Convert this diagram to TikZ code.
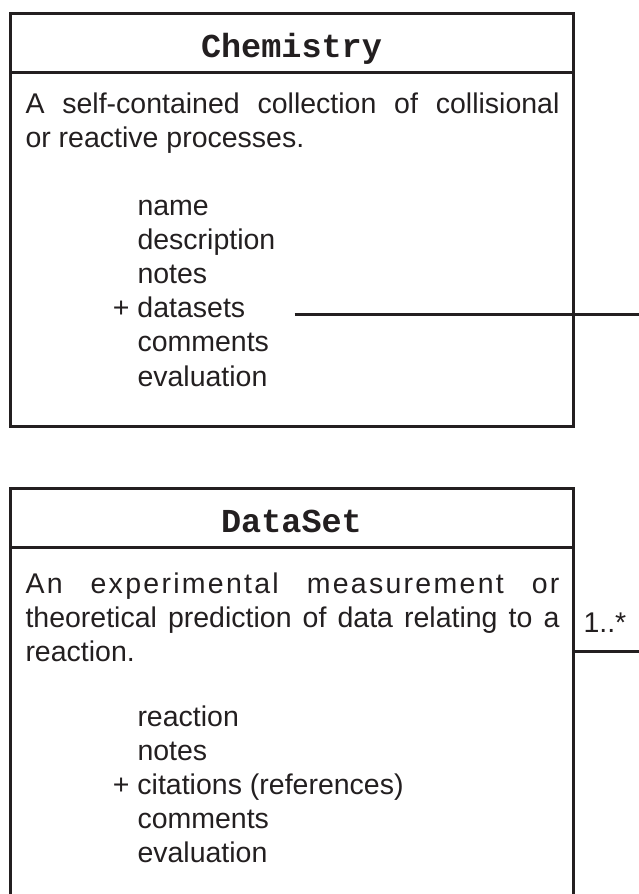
\documentclass[tikz,border=0pt]{standalone}
\usepackage{fontspec}
\setmainfont{Liberation Sans}
\newfontfamily\classfont{Liberation Mono}
\usepackage{xcolor}
\usepackage{tikz}
\definecolor{ink}{HTML}{231F20}

\begin{document}
\begin{tikzpicture}[x=1pt,y=-1pt,line width=3pt,color=ink,
	every node/.style={inner sep=0pt},
	classname/.style={anchor=base,font=\classfont\bfseries\fontsize{33.5}{40}\selectfont},
	descr/.style={anchor=base west,text width=534pt,align=justify,font=\fontsize{28.5}{34}\selectfont},
	attr/.style={anchor=base west,font=\fontsize{28.5}{34}\selectfont}]
	\clip (0,0) rectangle (639,894);
	\draw (10,13) rectangle (573,426);
	\draw (10,72) -- (573,72);
	\node[classname] (chemtitle) at (291.5,57) {Chemistry};
	\node[descr] (chemdesc) at (24,113) {A self-contained collection of collisional\linebreak or reactive processes.};
	\foreach \txt [count=\i from 0] in {name,description,notes,\llap{+ }datasets,comments,evaluation}
		\node[attr] (chemattr\i) at (136,{215+34.2*\i}) {\txt};
	\coordinate (rim) at (645,0);
	\draw ([xshift=48pt]chemattr3.mid east) -- (chemattr3.mid east -| rim);

	\draw (10,910) -- (10,488) -- (573,488) -- (573,910);
	\draw (10,547) -- (573,547);
	\node[classname] (dstitle) at (291.5,532) {DataSet};
	\node[descr] (dsdesc) at (24,593) {{\addfontfeatures{LetterSpace=8}An experimental measurement or}\linebreak theoretical prediction of data relating to a\linebreak reaction.};
	\foreach \txt [count=\i from 0] in {reaction,notes,\llap{+ }citations (references),comments,evaluation}
		\node[attr] (dsattr\i) at (136,{726+34*\i}) {\txt};
	\coordinate (dsport) at (573,651);
	\draw (dsport) -- (dsport -| rim);
	\node[attr] (dsmult) at (582,632) {1..*};
\end{tikzpicture}
\end{document}
